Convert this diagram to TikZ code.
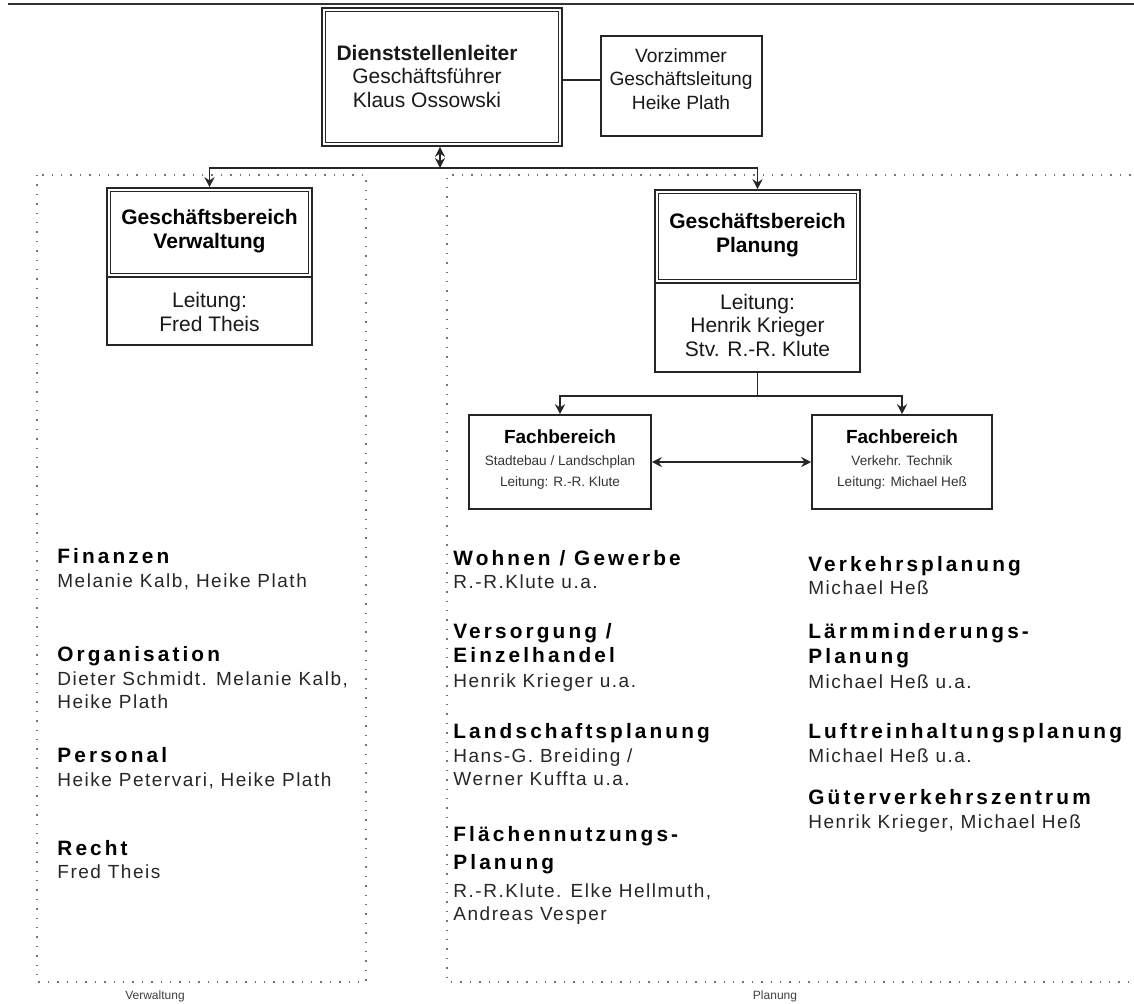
\documentclass[tikz,border=0pt]{standalone}
\usepackage{fontspec}
\setmainfont{Liberation Sans}
\newfontfamily\hfont{Liberation Sans}[LetterSpace=15]
\newfontfamily\nfont{Liberation Sans}[LetterSpace=8]
\usetikzlibrary{arrows.meta}
\begin{document}
\begin{tikzpicture}[x=0.5pt,y=-0.5pt,
  frame/.style={draw=black!85, line width=0.8pt, inner sep=0pt},
  innerframe/.style={draw=black!85, line width=0.6pt},
  conn/.style={draw=black!85, line width=0.8pt},
  arr/.style={conn, -{Stealth[length=5pt,width=5pt]}},
  darr/.style={conn, {Stealth[length=5pt,width=5pt]}-{Stealth[length=5pt,width=5pt]}},
  region/.style={draw=black!55, line width=0.7pt, dash pattern=on 0.7pt off 4pt},
  boxtxt/.style={align=center, inner sep=0pt, text=black!90, font=\fontsize{10.5}{11.75}\selectfont},
  boxhead/.style={align=center, inner sep=0pt, font=\bfseries\fontsize{10.5}{12}\selectfont},
  fbhead/.style={inner sep=0pt, anchor=base, font=\bfseries\fontsize{9.5}{11}\selectfont},
  fbsmall/.style={inner sep=0pt, anchor=base, text=black!80, font=\fontsize{6.8}{8}\selectfont},
  heading/.style={anchor=base west, inner sep=0pt, font=\hfont\bfseries\fontsize{10.4}{12}\selectfont},
  person/.style={anchor=base west, inner sep=0pt, text=black!85, font=\nfont\fontsize{9.5}{11}\selectfont},
  captxt/.style={inner sep=0pt, text=black!75, font=\fontsize{6}{7}\selectfont}
]
\useasboundingbox (0,0) rectangle (1134,1003);

% top rule
\draw[line width=0.7pt, black!80] (8,4) -- (1134,4);

% dotted regions
\draw[region] (37,175) rectangle (366,982);
\draw[region] (1140,175) -- (447,175) -- (447,982) -- (1140,982);
\node[captxt] (capv) at (155,996) {Verwaltung};
\node[captxt] (capp) at (775,996) {Planung};

% Dienststellenleiter
\node[frame, minimum width=120pt, minimum height=69pt] (dl) at (442,77) {};
\draw[innerframe] ([shift={(4,4)}]dl.north west) rectangle ([shift={(-4,-4)}]dl.south east);
\node[boxtxt] (dlt) at (427,76) {\textbf{Dienststellenleiter}\\Geschäftsführer\\Klaus Ossowski};

% Vorzimmer
\node[frame, minimum width=80.5pt, minimum height=50pt] (vz) at (681.5,86) {};
\node[boxtxt, font=\fontsize{9.6}{11.6}\selectfont] (vzt) at (681,79) {Vorzimmer\\Geschäftsleitung\\Heike Plath};
\coordinate (c80) at (0,80);
\draw[conn] (dl.east |- c80) -- (vz.west |- c80);

% Geschäftsbereich Verwaltung
\node[frame, minimum width=102.5pt, minimum height=44.5pt] (vwh) at (209.5,232.5) {};
\draw[innerframe] ([shift={(4,4)}]vwh.north west) rectangle ([shift={(-4,-4)}]vwh.south east);
\node[boxhead] (vwht) at (209.5,231) {Geschäftsbereich\\Verwaltung};
\node[frame, minimum width=102.5pt, minimum height=34pt] (vwb) at (209.5,311) {};
\node[boxtxt, font=\fontsize{10.5}{12}\selectfont] (vwbt) at (209.5,312) {Leitung:\\Fred Theis};

% Geschäftsbereich Planung
\node[frame, minimum width=102.5pt, minimum height=46.5pt] (plh) at (757.5,236.5) {};
\draw[innerframe] ([shift={(4,4)}]plh.north west) rectangle ([shift={(-4,-4)}]plh.south east);
\node[boxhead] (plht) at (757.5,235) {Geschäftsbereich\\Planung};
\node[frame, minimum width=102.5pt, minimum height=44.5pt] (plb) at (757.5,327.5) {};
\node[boxtxt] (plbt) at (757.5,325) {Leitung:\\Henrik Krieger\\Stv. R.-R. Klute};

% connectors top
\coordinate (j) at (440,168);
\draw[darr] (j |- dl.south) -- (j);
\draw[arr] (j) -| (vwh.north);
\draw[arr] (j) -| (plh.north);

% Fachbereiche
\node[frame, minimum width=91pt, minimum height=47pt] (fb1) at (560,462) {};
\node[frame, minimum width=90pt, minimum height=47pt] (fb2) at (902,462) {};
\node[fbhead] (fb1a) at (560,443) {Fachbereich};
\node[fbsmall] (fb1b) at (560,465) {Stadtebau / Landschplan};
\node[fbsmall] (fb1c) at (560,486) {Leitung: R.-R. Klute};
\node[fbhead] (fb2a) at (902,443) {Fachbereich};
\node[fbsmall] (fb2b) at (902,465) {Verkehr. Technik};
\node[fbsmall] (fb2c) at (902,486) {Leitung: Michael Heß};
\coordinate (k) at (757.5,396);
\draw[conn] (plb.south) -- (k);
\draw[arr] (k) -| (fb1.north);
\draw[arr] (k) -| (fb2.north);
\draw[darr] (fb1.east) -- (fb2.west);

% Verwaltung list
\node[heading] (v1h) at (57,563) {Finanzen};
\node[person] (v1a) at (57,587) {Melanie Kalb, Heike Plath};
\node[heading] (v2h) at (57,661) {Organisation};
\node[person] (v2a) at (57,685) {Dieter Schmidt. Melanie Kalb,};
\node[person] (v2b) at (57,708) {Heike Plath};
\node[heading] (v3h) at (57,762) {Personal};
\node[person] (v3a) at (57,786) {Heike Petervari, Heike Plath};
\node[heading] (v4h) at (57,855) {Recht};
\node[person] (v4a) at (57,878) {Fred Theis};

% Planung list, column 1
\node[heading] (p1h) at (453,565) {Wohnen / Gewerbe};
\node[person] (p1a) at (453,588) {R.-R.Klute u.a.};
\node[heading] (p2h) at (453,638) {Versorgung /};
\node[heading] (p2i) at (453,662) {Einzelhandel};
\node[person] (p2a) at (453,687) {Henrik Krieger u.a.};
\node[heading] (p3h) at (453,738) {Landschaftsplanung};
\node[person] (p3a) at (453,762) {Hans-G. Breiding /};
\node[person] (p3b) at (453,785) {Werner Kuffta u.a.};
\node[heading] (p4h) at (453,841) {Flächennutzungs-};
\node[heading] (p4i) at (453,869) {Planung};
\node[person] (p4a) at (453,897) {R.-R.Klute. Elke Hellmuth,};
\node[person] (p4b) at (453,920) {Andreas Vesper};

% Planung list, column 2
\node[heading] (q1h) at (808,571) {Verkehrsplanung};
\node[person] (q1a) at (808,594) {Michael Heß};
\node[heading] (q2h) at (808,638) {Lärmminderungs-};
\node[heading] (q2i) at (808,663) {Planung};
\node[person] (q2a) at (808,688) {Michael Heß u.a.};
\node[heading] (q3h) at (808,738) {Luftreinhaltungsplanung};
\node[person] (q3a) at (808,762) {Michael Heß u.a.};
\node[heading] (q4h) at (808,804) {Güterverkehrszentrum};
\node[person] (q4a) at (808,828) {Henrik Krieger, Michael Heß};
\end{tikzpicture}
\end{document}
